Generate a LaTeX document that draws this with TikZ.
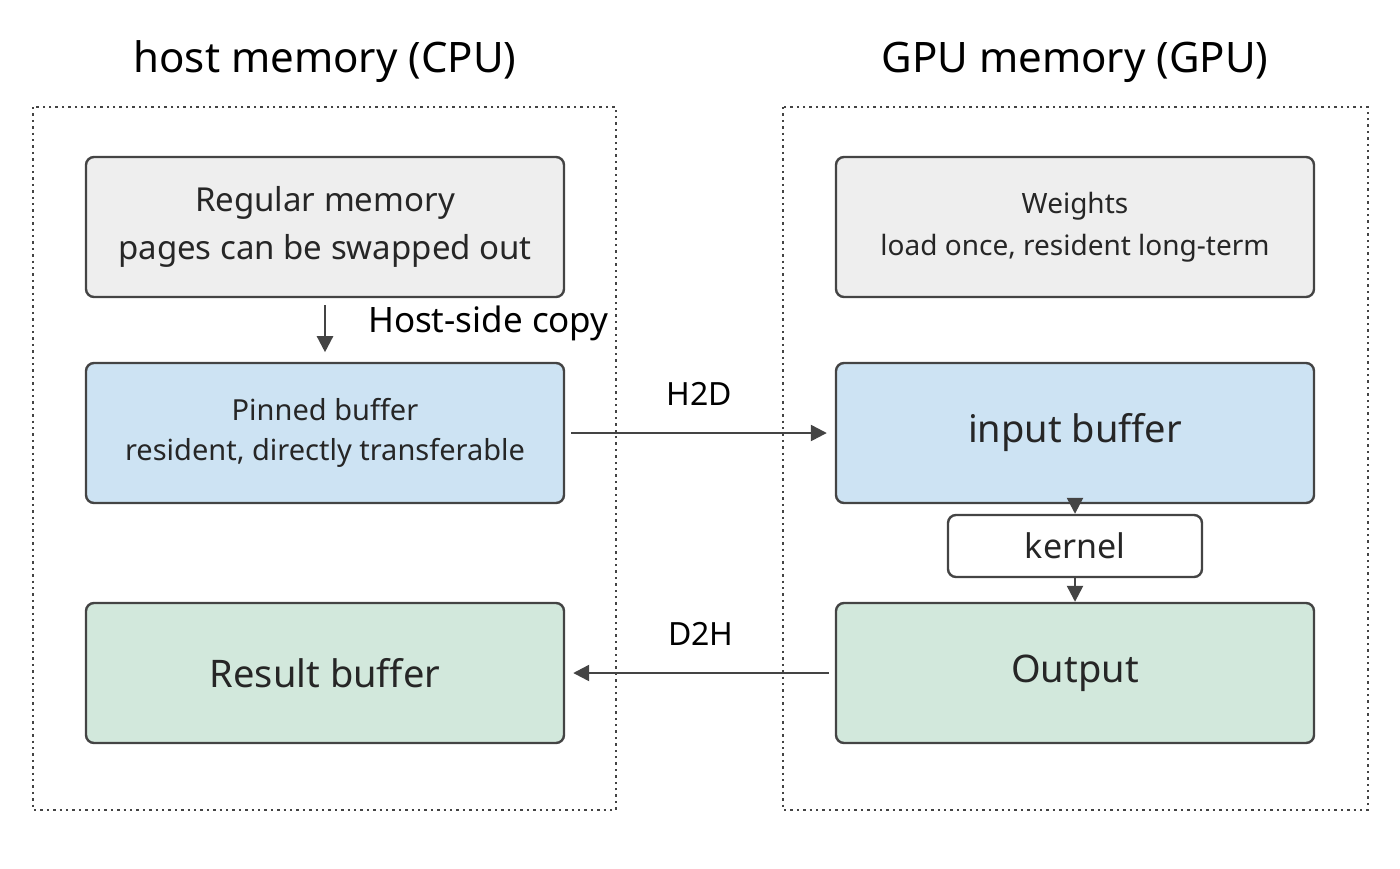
\documentclass[tikz,border=0pt]{standalone}
\usepackage{fontspec}
\setmainfont{Noto Sans}
\usetikzlibrary{arrows.meta}
\definecolor{boxgrey}{HTML}{EEEEEE}
\definecolor{boxblue}{HTML}{CDE3F3}
\definecolor{boxgreen}{HTML}{D2E8DC}
\definecolor{edgegrey}{HTML}{444444}
\begin{document}
\begin{tikzpicture}[x=0.5pt,y=-0.5pt]
  \tikzset{RegionStyle/.style = {
    draw          = edgegrey,
    dotted,
    line width    = 1.2pt
    }
  }
  \tikzset{BoxStyle/.style = {
    shape         = rectangle,
    draw          = edgegrey,
    rounded corners = 4pt,
    line width    = 1.2pt,
    minimum width = 239pt,
    minimum height= 70pt,
    align         = center,
    text          = black!85
    }
  }
  \tikzset{ArrowStyle/.style = {
    draw          = edgegrey,
    line width    = 1.2pt,
    -{Triangle[length=8pt,width=8pt]}
    }
  }
  \useasboundingbox (0,0) rectangle (1400,868);

  \draw[RegionStyle] (33,107) rectangle (616,810);
  \draw[RegionStyle] (783,107) rectangle (1368,810);
  \node[font=\fontsize{21}{25}\selectfont](TitleHost) at (325,62) {host memory (CPU)};
  \node[font=\fontsize{21}{25}\selectfont](TitleGpu) at (1075,62) {GPU memory (GPU)};

  \node[BoxStyle,fill=boxgrey,font=\fontsize{16.5}{24}\selectfont](Regular) at (325,227) {Regular memory\\pages can be swapped out};
  \node[BoxStyle,fill=boxblue,font=\fontsize{14.5}{20}\selectfont](Pinned) at (325,433) {Pinned buffer\\resident, directly transferable};
  \node[BoxStyle,fill=boxgreen,font=\fontsize{19}{23}\selectfont](Result) at (325,673) {Result buffer};
  \node[BoxStyle,fill=boxgrey,font=\fontsize{14}{21}\selectfont](Weights) at (1075,227) {Weights\\load once, resident long-term};
  \node[BoxStyle,fill=boxblue,font=\fontsize{19}{23}\selectfont](Input) at (1075,433) {input buffer};
  \node[BoxStyle,fill=boxgreen,font=\fontsize{19}{23}\selectfont](Output) at (1075,673) {Output};
  \node[BoxStyle,fill=white,minimum width=127pt,minimum height=31pt,font=\fontsize{17}{20}\selectfont](Kernel) at (1075,546) {kernel};

  \draw[ArrowStyle] (Regular.south) ++(0,7) coordinate (r1) -- ++(0,47) coordinate (r2);
  \node[anchor=west,font=\fontsize{17.5}{20}\selectfont](CopyLabel) at (361,323) {Host-side copy};
  \draw[ArrowStyle] ([xshift=3pt]Pinned.east) -- ([xshift=-4pt]Input.west)
    node[midway,above=10pt,font=\fontsize{16}{20}\selectfont]{H2D};
  \draw[ArrowStyle] ([xshift=-3pt]Output.west) -- ([xshift=4pt]Result.east)
    node[midway,above=10pt,font=\fontsize{16}{20}\selectfont]{D2H};
  \draw[ArrowStyle] (Input.south) -- (Kernel.north);
  \draw[ArrowStyle] (Kernel.south) -- (Output.north);
\end{tikzpicture}
\end{document}
